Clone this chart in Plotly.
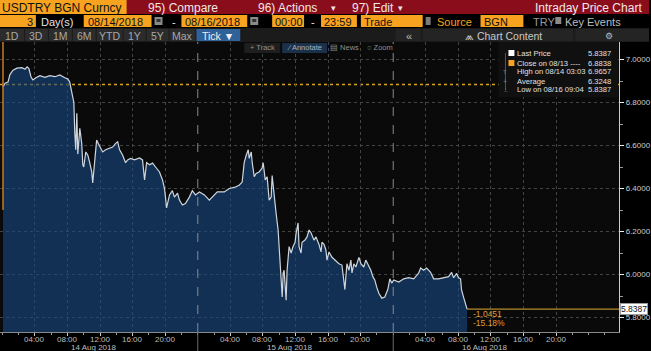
import plotly.graph_objects as go

W, H = 651, 351
FONT = "Liberation Sans, Arial, sans-serif"

# ---------------- data ----------------
t14 = ["00:05", "00:20", "00:42", "00:56", "01:19", "01:48", "02:25", "02:47", "03:03", "03:16",
       "03:31", "03:45", "04:07", "04:37", "05:14", "05:50", "06:27", "07:04", "07:40", "08:02",
       "08:17", "08:32", "08:39", "08:47", "08:54", "09:01", "09:09", "09:16", "09:31", "09:45",
       "09:53", "10:00", "10:15", "10:30", "10:44", "10:59", "11:06", "11:21", "11:35", "11:58",
       "12:20", "12:41", "13:11", "13:33", "13:55", "14:10", "14:24", "14:46", "15:08", "15:23",
       "15:45", "16:14", "16:51", "17:13", "17:28", "17:43", "18:05", "18:27", "18:49", "19:18",
       "19:40", "19:55", "20:02", "20:10", "20:32", "20:53", "21:08", "21:31", "21:45", "22:07",
       "22:29", "22:58", "23:20", "23:43"]
p14 = [6.872, 6.890, 6.895, 6.930, 6.950, 6.960, 6.962, 6.955, 6.9657, 6.958,
       6.920, 6.905, 6.915, 6.925, 6.917, 6.925, 6.920, 6.928, 6.915, 6.910,
       6.894, 6.840, 6.820, 6.800, 6.660, 6.580, 6.750, 6.560, 6.680, 6.610,
       6.510, 6.500, 6.570, 6.555, 6.520, 6.477, 6.426, 6.540, 6.625, 6.595,
       6.570, 6.580, 6.588, 6.593, 6.610, 6.617, 6.580, 6.556, 6.520, 6.533,
       6.540, 6.533, 6.542, 6.533, 6.440, 6.520, 6.510, 6.518, 6.500, 6.477,
       6.440, 6.400, 6.360, 6.310, 6.370, 6.390, 6.360, 6.378, 6.346, 6.323,
       6.330, 6.360, 6.390, 6.370]

t15 = ["00:12", "00:49", "01:25", "01:47", "02:24", "03:15", "03:52", "04:29", "05:05", "05:27",
       "05:42", "05:57", "06:12", "06:19", "06:34", "06:41", "06:56", "07:10", "07:32", "07:54",
       "08:02", "08:17", "08:31", "08:46", "09:01", "09:08", "09:23", "09:37", "09:52", "09:59",
       "10:07", "10:22", "10:29", "10:36", "10:51", "10:58", "11:13", "11:28", "11:42", "11:57",
       "12:04", "12:19", "12:26", "12:41", "12:48", "13:10", "13:25", "13:40", "13:55", "14:16",
       "14:31", "14:53", "15:08", "15:15", "15:30", "15:44", "15:52", "16:07", "16:29", "16:51",
       "17:20", "17:42", "17:57", "18:04", "18:11", "18:19", "18:34", "18:48", "18:56", "19:10",
       "19:25", "19:47", "20:02", "20:23", "20:38", "21:01", "21:15", "21:30", "21:44", "21:59",
       "22:14", "22:36", "22:58", "23:20", "23:35", "23:49"]
p15 = [6.384, 6.370, 6.346, 6.360, 6.384, 6.384, 6.400, 6.405, 6.415, 6.430,
       6.520, 6.555, 6.580, 6.540, 6.570, 6.520, 6.455, 6.470, 6.477, 6.495,
       6.520, 6.440, 6.455, 6.346, 6.360, 6.460, 6.360, 6.285, 6.207, 6.130,
       6.035, 5.895, 6.007, 6.020, 5.880, 6.020, 6.130, 6.100, 6.130, 6.150,
       6.190, 6.240, 6.130, 6.100, 6.150, 6.160, 6.175, 6.207, 6.193, 6.160,
       6.175, 6.140, 6.105, 6.150, 6.140, 6.114, 6.067, 6.105, 6.080, 6.067,
       6.050, 6.044, 5.975, 5.930, 5.990, 6.050, 6.020, 6.067, 6.007, 6.050,
       6.035, 6.080, 6.050, 6.035, 6.067, 6.035, 6.020, 5.990, 5.975, 5.940,
       5.913, 5.890, 5.895, 5.930, 5.980, 5.960]

t16 = ["00:04", "00:41", "01:17", "01:54", "02:31", "03:07", "03:22", "03:44", "04:06", "04:35",
       "04:58", "05:34", "06:11", "06:48", "07:10", "07:25", "07:47", "08:01", "08:16", "08:23",
       "08:38", "09:04"]
p16 = [5.975, 5.965, 5.980, 5.985, 5.980, 6.006, 6.030, 6.020, 6.030, 6.010,
       5.980, 5.980, 5.985, 5.990, 6.010, 5.985, 6.005, 5.985, 5.980, 5.930,
       5.895, 5.8387]

times = (["2018-08-14 " + t for t in t14] + ["2018-08-15 " + t for t in t15]
         + ["2018-08-16 " + t for t in t16])
prices = p14 + p15 + p16

prev_close = 6.8838
average = 6.3248
last = prices[-1]
hi = max(prices)
hi_time = times[prices.index(hi)]
lo = min(prices)
lo_time = times[len(prices) - 1 - prices[::-1].index(lo)]
change = last - prev_close
pct = change / prev_close * 100

days = ["2018-08-14", "2018-08-15", "2018-08-16"]
day_labels = ["14 Aug 2018", "15 Aug 2018", "16 Aug 2018"]
hours = [4, 8, 12, 16, 20]
tick_vals = [f"{d} {h:02d}:00" for d in days for h in hours]
tick_text = [f"{h:02d}:00" for d in days for h in hours]

# ---------------- helpers (pixel -> paper) ----------------
def X(p):
    return p / W


def Y(p):
    return 1 - p / H


shapes = []
annots = []


def rect(x0, y0, x1, y1, fill, line=None):
    shapes.append(dict(type="rect", xref="paper", yref="paper", x0=X(x0), x1=X(x1),
                       y0=Y(y1), y1=Y(y0), fillcolor=fill,
                       line=dict(width=1 if line else 0, color=line or fill), layer="above"))


def text(x, y, s, color, size, anchor="left", bg=None, border=None):
    d = dict(xref="paper", yref="paper", x=X(x), y=Y(y), text=s, showarrow=False,
             xanchor=anchor, yanchor="middle", font=dict(family=FONT, size=size, color=color),
             borderpad=0)
    if bg:
        d["bgcolor"] = bg
    if border:
        d["bordercolor"] = border
        d["borderwidth"] = 1
    annots.append(d)


ORANGE = "#f7a31f"
DARK = "#111111"
x_end = "2018-08-17 03:44"

# previous close dotted line (under the legend box)
shapes.append(dict(type="line", xref="x domain", yref="y", x0=0, x1=1,
                   y0=prev_close, y1=prev_close, layer="below",
                   line=dict(color="#d9a21a", width=1.5, dash="dot")))

# row 1 : title bar
rect(0, 0, 651, 14, "#8a0d1c")
rect(0, 0, 127, 14, ORANGE)
text(1, 7.5, "USDTRY BGN Curncy", DARK, 12)
text(147, 7.5, "95) Compare", "#f2e6e6", 12)
text(258, 7.5, "96) Actions", "#f2e6e6", 12)
text(331, 7.5, "▾", "#f2e6e6", 9)
text(352, 7.5, "97) Edit", "#f2e6e6", 12)
text(398, 7.5, "▾", "#f2e6e6", 9)
text(645, 7.5, "Intraday Price Chart", "#f2e6e6", 12, anchor="right")

# row 2 : date controls
R2 = 11
rect(0, 14, 651, 28, "#000000")
rect(0, 15, 36, 27, ORANGE)
text(34, 21.5, "3", DARK, R2, anchor="right")
text(40, 21.5, "Day(s)", "#e6e6e6", R2)
rect(84, 15, 152, 27, ORANGE)
text(87, 21.5, "08/14/2018", DARK, R2)
rect(155, 17, 163, 25, "#8a8a8a")
rect(157, 19, 161, 22, "#333333")
text(172, 21.5, "-", "#e6e6e6", R2)
rect(182, 15, 248, 27, ORANGE)
text(185, 21.5, "08/16/2018", DARK, R2)
rect(251, 17, 259, 25, "#8a8a8a")
rect(253, 19, 257, 22, "#333333")
rect(273, 15, 305, 27, ORANGE)
text(275, 21.5, "00:00", DARK, R2)
text(311, 21.5, "-", "#e6e6e6", R2)
rect(322, 15, 358, 27, ORANGE)
text(324, 21.5, "23:59", DARK, R2)
rect(362, 15, 424, 27, ORANGE)
text(364, 21.5, "Trade", DARK, R2)
rect(427, 17, 432, 25, "#7a7a7a")
text(437, 21.5, "Source", ORANGE, R2)
rect(482, 15, 525, 27, ORANGE)
text(484, 21.5, "BGN", DARK, R2)
text(534, 21.5, "TRY", "#9a9a9a", R2)
rect(557, 17, 563, 24, "#8a8a8a")
text(566, 21.5, "Key Events", "#bdbdbd", R2)

# row 3 : range buttons
rect(0, 28, 651, 42, "#1b1b1b")
btns = [("1D", 0, 24), ("3D", 25, 48), ("1M", 49, 72), ("6M", 73, 96), ("YTD", 97, 123),
        ("1Y", 124, 146), ("5Y", 147, 169), ("Max", 170, 196)]
for lab, a, b in btns:
    rect(a, 29, b, 41, "#2c2c2c")
    text((a + b) / 2, 35.5, lab, "#a8a8a8", 10.5, anchor="center")
rect(197, 29, 241, 41, "#2f6299")
text(219, 35.5, "Tick ▼", "#f0f0f0", 10.5, anchor="center")
rect(397, 29, 422, 41, "#242424")
text(410, 35.5, "«", "#bdbdbd", 11, anchor="center")
rect(424, 29, 575, 41, "#242424")
text(505, 35.5, "⩕ Chart Content", "#c8c8c8", 10.5, anchor="center")
rect(577, 29, 651, 41, "#242424")
text(611, 35.5, "⚙", "#bdbdbd", 9, anchor="center")

# plot toolbar
rect(245, 43, 281, 53, "#1e1e1e")
text(263, 48, "+ Track", "#8f8f8f", 7.5, anchor="center")
rect(283, 43, 328, 53, "#1b3049")
text(305, 48, "⁄ Annotate", "#a9b4c2", 7.5, anchor="center")
text(346, 48, "▤ News", "#8f8f8f", 7.5, anchor="center")
text(381, 48, "○ Zoom", "#8f8f8f", 7.5, anchor="center")

# legend box
LG = 7.6
rect(500, 42, 620, 97, "#101010")
shapes.append(dict(type="line", xref="paper", yref="paper", x0=X(507), x1=X(507),
                   y0=Y(90), y1=Y(53), line=dict(color="#555555", width=1), layer="above"))
rect(510, 50, 516, 56, "#ffffff")
rect(510, 60, 516, 66, ORANGE)
rows = [(53, "Last Price", last), (63, "Close on 08/13 ----", prev_close),
        (72, f"High on {hi_time[5:7]}/{hi_time[8:10]} {hi_time[11:]}", hi),
        (81, "Average", average),
        (90, f"Low on {lo_time[5:7]}/{lo_time[8:10]} {lo_time[11:]}", lo)]
for yy, lab, val in rows:
    text(518, yy, lab, "#e0e0e0", LG)
    text(614, yy, f"{val:.4f}", "#e0e0e0", LG, anchor="right")
text(507, 72, "T", "#777777", 6, anchor="center")
text(507, 81, "+", "#777777", 7, anchor="center")
text(507, 90, "⊥", "#777777", 6, anchor="center")

# ---------------- figure ----------------
fig = go.Figure()
fig.add_trace(go.Scatter(x=times, y=prices, mode="lines",
                         line=dict(color="#cfd5dc", width=1.2),
                         fill="tozeroy", fillcolor="rgba(24,72,130,0.62)",
                         hoverinfo="skip", showlegend=False))

# last price line
shapes.append(dict(type="line", xref="x", yref="y", x0=times[-1], x1=x_end,
                   y0=last, y1=last, line=dict(color="#b38c2c", width=1.2)))
# left orange marker line
shapes.append(dict(type="line", xref="paper", yref="paper", x0=X(3), x1=X(3),
                   y0=Y(210), y1=Y(42), line=dict(color="#c57a26", width=1.5)))
# day separators
for d in days[1:]:
    shapes.append(dict(type="line", xref="x", yref="paper", x0=d, x1=d, y0=Y(332), y1=Y(42),
                       line=dict(color="#8a8a8a", width=1, dash="dash")))
    shapes.append(dict(type="line", xref="x", yref="paper", x0=d, x1=d, y0=0, y1=Y(332),
                       line=dict(color="#6a6a6a", width=1)))

# hour labels and day labels under the axis
for tv, tt in zip(tick_vals, tick_text):
    annots.append(dict(xref="x", yref="paper", x=tv, y=Y(339), text=tt,
                       showarrow=False, xanchor="center", yanchor="middle",
                       font=dict(family=FONT, size=8, color="#bdbdbd")))
for d, lab in zip(days, day_labels):
    annots.append(dict(xref="x", yref="paper", x=d + " 11:15", y=Y(347.5), text=lab,
                       showarrow=False, xanchor="center", yanchor="middle",
                       font=dict(family=FONT, size=8, color="#bdbdbd")))

# last price tag and change texts
text(622, 309, f"{last:.4f}", "#111111", 8.5, bg="#ffffff", border="#9a9a9a")
text(473, 314, f"{change:.4f}", "#e39a2e", 8.5)
text(473, 323, f"{pct:.2f}%", "#e39a2e", 8.5)

fig.update_layout(
    width=W, height=H, margin=dict(l=0, r=0, t=0, b=0),
    paper_bgcolor="#000000", plot_bgcolor="#0a0a0a",
    showlegend=False, shapes=shapes, annotations=annots,
    xaxis=dict(type="date", range=["2018-08-13 23:43", x_end], domain=[0, 621 / W],
               tickvals=tick_vals, showticklabels=False,
               showgrid=True, gridcolor="#444444", griddash="dot", gridwidth=1,
               ticks="outside", ticklen=3, tickcolor="#cccccc",
               showline=True, linecolor="#8a8a8a", zeroline=False,
               minor=dict(dtick=2 * 3600 * 1000, tick0="2018-08-14", ticks="outside",
                          ticklen=2, tickcolor="#9a9a9a", showgrid=False)),
    yaxis=dict(side="right", range=[5.7326, 7.0814], domain=[19 / H, 309 / H],
               tick0=5.8, dtick=0.2, tickformat=".4f",
               showgrid=True, gridcolor="#444444", griddash="dot", gridwidth=1,
               ticks="outside", ticklen=4, tickcolor="#eeeeee",
               tickfont=dict(family=FONT, size=8, color="#cccccc"),
               showline=True, linecolor="#cccccc", zeroline=False,
               minor=dict(dtick=0.1, ticks="outside", ticklen=3, tickcolor="#9a9a9a",
                          showgrid=False)),
)

fig.write_html("out.html", config={"displayModeBar": False})
